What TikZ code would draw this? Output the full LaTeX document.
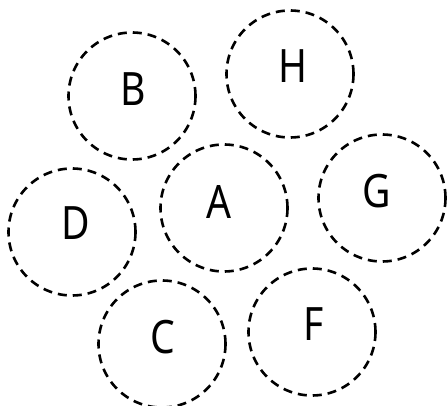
\documentclass[tikz,border=0pt]{standalone}
\usepackage{fontspec}
\newfontfamily\lblfont[FakeStretch=0.85]{Noto Sans}
\begin{document}
\begin{tikzpicture}[x=1pt,y=-1pt,
  ring/.style={circle,draw=black,line width=2.6pt,dash pattern=on 9pt off 6pt,minimum size=127pt,inner sep=0pt},
  lbl/.style={inner sep=0pt,font=\lblfont\fontsize{46}{46}\selectfont}]
\useasboundingbox (0,0) rectangle (448,406);
\node[ring] (cB) at (132,96) {};
\node[ring] (cH) at (290,74) {};
\node[ring] (cA) at (224,208) {};
\node[ring] (cG) at (382,198) {};
\node[ring] (cD) at (72,232) {};
\node[ring] (cC) at (162,344) {};
\node[ring] (cF) at (312,332) {};
\node[lbl] (B) at (133.5,89) {B};
\node[lbl] (H) at (293,66) {H};
\node[lbl] (A) at (218.5,202) {A};
\node[lbl] (G) at (377,191) {G};
\node[lbl] (D) at (76,223.5) {D};
\node[lbl] (C) at (163,337) {C};
\node[lbl] (F) at (313.5,324.5) {F};
\end{tikzpicture}
\end{document}
